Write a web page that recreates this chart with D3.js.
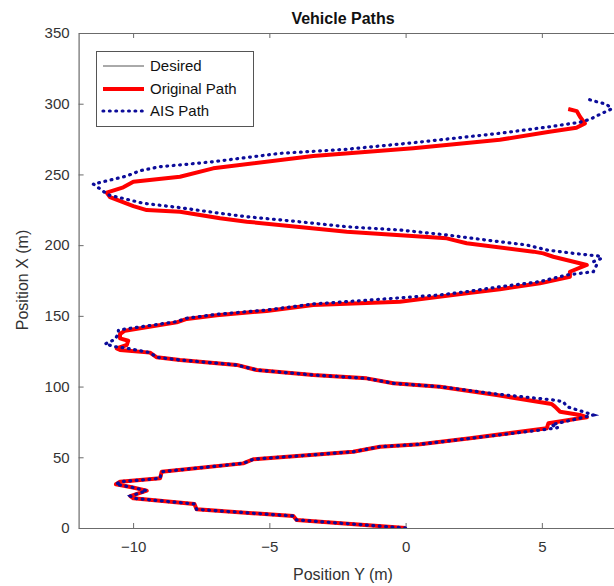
<!DOCTYPE html>
<html><head><meta charset="utf-8">
<script src="https://cdn.jsdelivr.net/npm/d3@7"></script>
<style>body{margin:0;background:#fff}svg{display:block}text{font-family:"Liberation Sans",Arial,sans-serif}</style>
</head><body>
<script>
// AIS path (dotted blue)
const aisY = [0,-4.0,-4.12,-7.67,-7.75,-9.99,-10.1,-9.5,-10.05,-10.63,-10.48,-9.01,-8.95,-5.96,-5.59,-1.92,-0.94,0.53,2.37,5.18,5.6,5.35,6.89,6.52,5.91,5.79,5.42,3.34,1.26,-0.45,-1.43,-3.39,-5.46,-6.2,-8.28,-9.13,-9.38,-10.23,-10.66,-11.03,-10.66,-10.54,-10.54,-8.4,-8.03,-6.93,-5.1,-3.39,-0.94,1.26,2.24,3.46,4.93,5.91,6.89,7.01,6.89,7.2,7.07,6.15,5.18,4.44,3.0,1.51,-0.21,-2.16,-3.88,-5.83,-6.81,-8.28,-9.63,-10.23,-10.91,-11.46,-10.23,-9.75,-9.01,-8.28,-7.06,-4.61,-2.16,0.28,3.46,5.28,6.4,6.77,7.13,7.56,7.38,7.01,6.58];
const aisX = [0,5.7,8.5,13.2,17,21,22.6,26.4,28.8,30.9,32.7,35.1,39.8,45.7,48.6,53.9,57.5,59.2,63.4,69.8,71,73,79.9,82.2,85.8,89.3,90.5,94.7,99.9,102.3,105.8,108.2,111.7,115.3,118.8,120.7,124,127.1,128.2,130.1,133.4,137.7,140,145.9,148.3,151.1,154.1,158.4,161.7,164.8,167.1,170.6,174.2,178.9,181.2,186,188.3,190.7,192.3,194.2,196.6,200.1,203.5,207.2,210.7,213,216.5,220.1,222.5,226.5,229.6,232.4,235.5,243.2,248.9,252.6,255.5,256.7,259,264.9,267.8,272.4,279.1,283.7,286.9,289,292.5,296.3,299.6,301.4,303.8];

// Original path (solid red)
const origY = [0,-4.0,-4.12,-7.67,-7.75,-9.99,-10.1,-9.5,-10.05,-10.63,-10.48,-9.01,-8.95,-5.96,-5.59,-1.92,-0.94,0.53,2.37,5.18,5.24,6.4,6.65,6.4,5.67,5.48,5.36,3.34,1.26,-0.45,-1.43,-3.39,-5.46,-6.2,-8.28,-9.13,-9.38,-10.48,-10.6,-10.23,-10.18,-10.48,-10.48,-10.3,-8.4,-8.03,-6.93,-5.1,-3.39,-0.21,2.24,3.46,4.93,6.03,6.03,6.65,5.42,5.05,4.69,2.24,1.51,-2.16,-5.83,-6.81,-8.28,-9.5,-9.99,-10.85,-10.97,-10.36,-9.99,-8.28,-7.06,-3.39,0.28,3.46,5.28,6.27,6.58,6.4,6.28,5.97];
const origX = [0,5.7,8.5,13.2,17,21,22.6,26.4,28.8,30.9,32.7,35.1,39.8,45.7,48.6,53.9,57.5,59.2,63.4,70.5,74,77.6,78.3,79.9,82.2,85.8,87.7,94,99.9,102.3,105.8,108.2,111.7,115.3,118.8,120.7,124,125.9,127,129.4,132.4,134.1,137.2,139.5,145.4,147.8,150.5,153.5,157.6,160,166,168.8,173,177.7,181.2,186,191.8,194.2,195.4,201.3,204.8,209.5,216.6,219,223.6,224.8,227.6,234,237.1,240.9,244.9,248.4,254.3,263,268.5,274.5,280.2,283,286.1,290.8,294.8,296.3];

// Desired path (thin gray, lies under the original path)
const desY = origY.slice();
const desX = origX.slice();

const xTicks = [-10,-5,0,5];
const yTicks = [0,50,100,150,200,250,300,350];
const legendLabels = ["Desired","Original Path","AIS Path"];

const W = 614, H = 586;
const x = d3.scaleLinear().domain([-12, 8]).range([78.6, 623.6]);
const y = d3.scaleLinear().domain([0, 350]).range([528, 33]);

const svg = d3.select("body").append("svg").attr("width", W).attr("height", H);
const axisColor = "#6b6b6b", textColor = "#333";

svg.append("defs").append("clipPath").attr("id","clip")
  .append("rect").attr("x",78.6).attr("y",33).attr("width",545).attr("height",495);

// axes
const gx = svg.append("g").attr("transform","translate(0,528)")
  .call(d3.axisBottom(x).tickValues(xTicks).tickSizeInner(-5).tickSizeOuter(0).tickPadding(10).tickFormat(d3.format("d")));
const gxt = svg.append("g").attr("transform","translate(0,33)")
  .call(d3.axisTop(x).tickValues(xTicks).tickSizeInner(-5).tickSizeOuter(0).tickFormat(""));
const gy = svg.append("g").attr("transform","translate(78.6,0)")
  .call(d3.axisLeft(y).tickValues(yTicks).tickSizeInner(-5).tickSizeOuter(0).tickPadding(9));
[gx,gxt,gy].forEach(g=>{
  g.select(".domain").attr("stroke",axisColor).attr("stroke-width",1.2);
  g.selectAll(".tick line").attr("stroke",axisColor);
  g.selectAll(".tick text").attr("fill",textColor).style("font-size","15px").style("font-family","'Liberation Sans',Arial,sans-serif");
});
gx.selectAll(".tick text").attr("dy","0.9em");

const plot = svg.append("g").attr("clip-path","url(#clip)");
const line = d3.line().x(d=>x(d[0])).y(d=>y(d[1]));
const zip = (a,b)=>a.map((v,i)=>[v,b[i]]);

plot.append("path").datum(zip(desY,desX)).attr("d",line)
  .attr("fill","none").attr("stroke","#555").attr("stroke-width",1);
plot.append("path").datum(zip(origY,origX)).attr("d",line)
  .attr("fill","none").attr("stroke","#ff0000").attr("stroke-width",4).attr("stroke-linejoin","round");
plot.append("path").datum(zip(aisY,aisX)).attr("d",line)
  .attr("fill","none").attr("stroke","#0c0c9a").attr("stroke-width",3.2)
  .attr("stroke-dasharray","0.8,5.6").attr("stroke-linecap","round");

// title and labels
svg.append("text").attr("x",343).attr("y",24).attr("text-anchor","middle")
  .style("font-size","16px").style("font-weight","bold").attr("fill","#111").text("Vehicle Paths");
svg.append("text").attr("x",343).attr("y",580).attr("text-anchor","middle")
  .style("font-size","16px").attr("fill",textColor).text("Position Y (m)");
svg.append("text").attr("transform","translate(28,280) rotate(-90)").attr("text-anchor","middle")
  .style("font-size","16px").attr("fill",textColor).text("Position X (m)");

// legend
const lg = svg.append("g");
lg.append("rect").attr("x",96.5).attr("y",51.5).attr("width",157).attr("height",75)
  .attr("fill","#fff").attr("stroke","#555").attr("stroke-width",1);
const ly = [66, 89, 111];
const styles = [
  {stroke:"#555", w:1, dash:null, cap:"butt"},
  {stroke:"#ff0000", w:4, dash:null, cap:"butt"},
  {stroke:"#0c0c9a", w:3.2, dash:"0.8,5.6", cap:"round"}
];
legendLabels.forEach((t,i)=>{
  lg.append("line").attr("x1",103).attr("x2",144).attr("y1",ly[i]).attr("y2",ly[i])
    .attr("stroke",styles[i].stroke).attr("stroke-width",styles[i].w)
    .attr("stroke-dasharray",styles[i].dash).attr("stroke-linecap",styles[i].cap);
  lg.append("text").attr("x",150).attr("y",ly[i]).attr("dy","0.35em")
    .style("font-size","15px").attr("fill","#111").text(t);
});
</script>
</body></html>
